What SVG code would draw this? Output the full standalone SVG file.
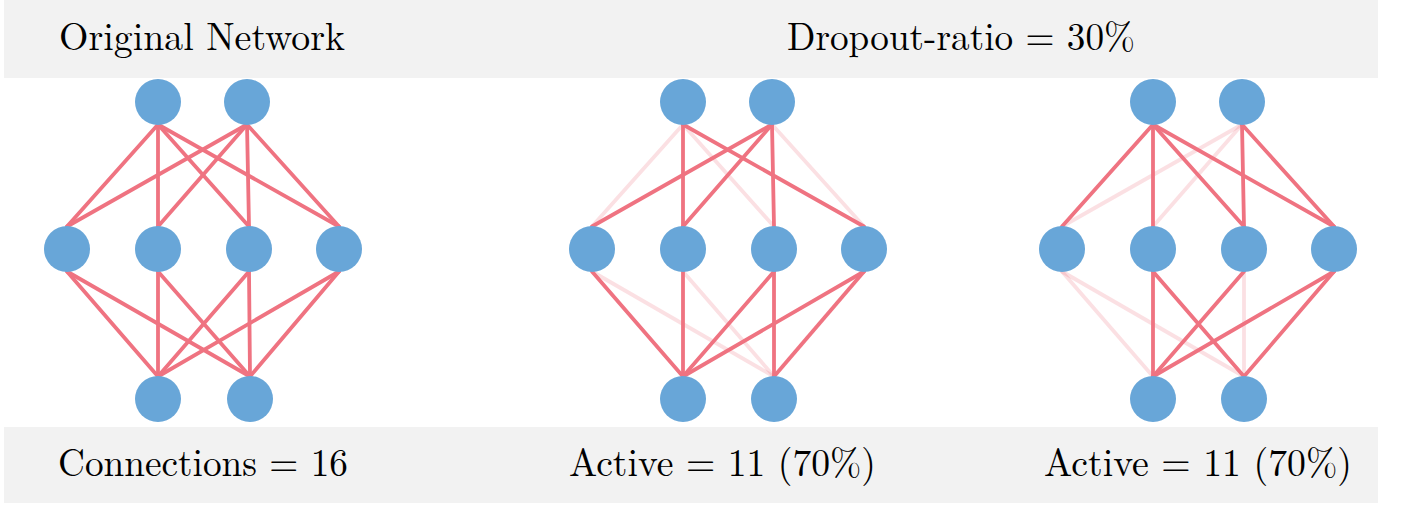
<svg xmlns="http://www.w3.org/2000/svg" width="1410" height="512" viewBox="0 0 1410 512">
<style>
.band{fill:#F2F2F2}
.lbl{font-size:39px;fill:#000}
.node{fill:#68A6D8}
.on{stroke:#EF7381;stroke-width:3.8;stroke-linecap:round;fill:none}
.off{stroke:#EF7381;stroke-opacity:0.22;stroke-width:3.8;stroke-linecap:round;fill:none}
</style>
<rect width="1410" height="512" fill="#fff"/>
<g id="header" font-family="'Latin Modern Roman', 'Liberation Serif', 'DejaVu Serif', 'Times New Roman', serif">
<rect class="band" x="4" y="0" width="1374" height="78"/>
<text class="lbl" x="59" y="50" textLength="286" lengthAdjust="spacingAndGlyphs">Original Network</text>
<text class="lbl" x="787" y="50" textLength="348" lengthAdjust="spacingAndGlyphs">Dropout-ratio = 30%</text>
</g>
<g id="footer" font-family="'Latin Modern Roman', 'Liberation Serif', 'DejaVu Serif', 'Times New Roman', serif">
<rect class="band" x="4" y="427" width="1374" height="76"/>
<text class="lbl" x="58" y="476" textLength="290" lengthAdjust="spacingAndGlyphs">Connections = 16</text>
<text class="lbl" x="569" y="476" textLength="307" lengthAdjust="spacingAndGlyphs">Active = 11 (70%)</text>
<text class="lbl" x="1044" y="476" textLength="308" lengthAdjust="spacingAndGlyphs">Active = 11 (70%)</text>
</g>
<g id="connectors">
<line class="on" x1="158" y1="124.5" x2="67" y2="226.5"/>
<line class="on" x1="158" y1="124.5" x2="158" y2="226.5"/>
<line class="on" x1="158" y1="124.5" x2="249" y2="226.5"/>
<line class="on" x1="158" y1="124.5" x2="339" y2="226.5"/>
<line class="on" x1="247" y1="124.5" x2="67" y2="226.5"/>
<line class="on" x1="247" y1="124.5" x2="158" y2="226.5"/>
<line class="on" x1="247" y1="124.5" x2="249" y2="226.5"/>
<line class="on" x1="247" y1="124.5" x2="339" y2="226.5"/>
<line class="on" x1="67" y1="271.5" x2="158" y2="376.5"/>
<line class="on" x1="67" y1="271.5" x2="250" y2="376.5"/>
<line class="on" x1="158" y1="271.5" x2="158" y2="376.5"/>
<line class="on" x1="158" y1="271.5" x2="250" y2="376.5"/>
<line class="on" x1="249" y1="271.5" x2="158" y2="376.5"/>
<line class="on" x1="249" y1="271.5" x2="250" y2="376.5"/>
<line class="on" x1="339" y1="271.5" x2="158" y2="376.5"/>
<line class="on" x1="339" y1="271.5" x2="250" y2="376.5"/>
<line class="off" x1="683" y1="124.5" x2="592" y2="226.5"/>
<line class="off" x1="683" y1="124.5" x2="774" y2="226.5"/>
<line class="off" x1="772" y1="124.5" x2="864" y2="226.5"/>
<line class="off" x1="592" y1="271.5" x2="774" y2="376.5"/>
<line class="off" x1="683" y1="271.5" x2="774" y2="376.5"/>
<line class="on" x1="683" y1="124.5" x2="683" y2="226.5"/>
<line class="on" x1="683" y1="124.5" x2="864" y2="226.5"/>
<line class="on" x1="772" y1="124.5" x2="592" y2="226.5"/>
<line class="on" x1="772" y1="124.5" x2="683" y2="226.5"/>
<line class="on" x1="772" y1="124.5" x2="774" y2="226.5"/>
<line class="on" x1="592" y1="271.5" x2="683" y2="376.5"/>
<line class="on" x1="683" y1="271.5" x2="683" y2="376.5"/>
<line class="on" x1="774" y1="271.5" x2="683" y2="376.5"/>
<line class="on" x1="774" y1="271.5" x2="774" y2="376.5"/>
<line class="on" x1="864" y1="271.5" x2="683" y2="376.5"/>
<line class="on" x1="864" y1="271.5" x2="774" y2="376.5"/>
<line class="off" x1="1242" y1="124.5" x2="1062" y2="226.5"/>
<line class="off" x1="1242" y1="124.5" x2="1153" y2="226.5"/>
<line class="off" x1="1062" y1="271.5" x2="1153" y2="376.5"/>
<line class="off" x1="1062" y1="271.5" x2="1244" y2="376.5"/>
<line class="off" x1="1244" y1="271.5" x2="1244" y2="376.5"/>
<line class="on" x1="1153" y1="124.5" x2="1062" y2="226.5"/>
<line class="on" x1="1153" y1="124.5" x2="1153" y2="226.5"/>
<line class="on" x1="1153" y1="124.5" x2="1244" y2="226.5"/>
<line class="on" x1="1153" y1="124.5" x2="1334" y2="226.5"/>
<line class="on" x1="1242" y1="124.5" x2="1244" y2="226.5"/>
<line class="on" x1="1242" y1="124.5" x2="1334" y2="226.5"/>
<line class="on" x1="1153" y1="271.5" x2="1153" y2="376.5"/>
<line class="on" x1="1153" y1="271.5" x2="1244" y2="376.5"/>
<line class="on" x1="1244" y1="271.5" x2="1153" y2="376.5"/>
<line class="on" x1="1334" y1="271.5" x2="1153" y2="376.5"/>
<line class="on" x1="1334" y1="271.5" x2="1244" y2="376.5"/>
</g>
<g id="n1-t1"><circle class="node" cx="158" cy="102" r="23"/></g>
<g id="n1-t2"><circle class="node" cx="247" cy="102" r="23"/></g>
<g id="n1-m1"><circle class="node" cx="67" cy="249" r="23"/></g>
<g id="n1-m2"><circle class="node" cx="158" cy="249" r="23"/></g>
<g id="n1-m3"><circle class="node" cx="249" cy="249" r="23"/></g>
<g id="n1-m4"><circle class="node" cx="339" cy="249" r="23"/></g>
<g id="n1-b1"><circle class="node" cx="158" cy="399" r="23"/></g>
<g id="n1-b2"><circle class="node" cx="250" cy="399" r="23"/></g>
<g id="n2-t1"><circle class="node" cx="683" cy="102" r="23"/></g>
<g id="n2-t2"><circle class="node" cx="772" cy="102" r="23"/></g>
<g id="n2-m1"><circle class="node" cx="592" cy="249" r="23"/></g>
<g id="n2-m2"><circle class="node" cx="683" cy="249" r="23"/></g>
<g id="n2-m3"><circle class="node" cx="774" cy="249" r="23"/></g>
<g id="n2-m4"><circle class="node" cx="864" cy="249" r="23"/></g>
<g id="n2-b1"><circle class="node" cx="683" cy="399" r="23"/></g>
<g id="n2-b2"><circle class="node" cx="774" cy="399" r="23"/></g>
<g id="n3-t1"><circle class="node" cx="1153" cy="102" r="23"/></g>
<g id="n3-t2"><circle class="node" cx="1242" cy="102" r="23"/></g>
<g id="n3-m1"><circle class="node" cx="1062" cy="249" r="23"/></g>
<g id="n3-m2"><circle class="node" cx="1153" cy="249" r="23"/></g>
<g id="n3-m3"><circle class="node" cx="1244" cy="249" r="23"/></g>
<g id="n3-m4"><circle class="node" cx="1334" cy="249" r="23"/></g>
<g id="n3-b1"><circle class="node" cx="1153" cy="399" r="23"/></g>
<g id="n3-b2"><circle class="node" cx="1244" cy="399" r="23"/></g>
</svg>
